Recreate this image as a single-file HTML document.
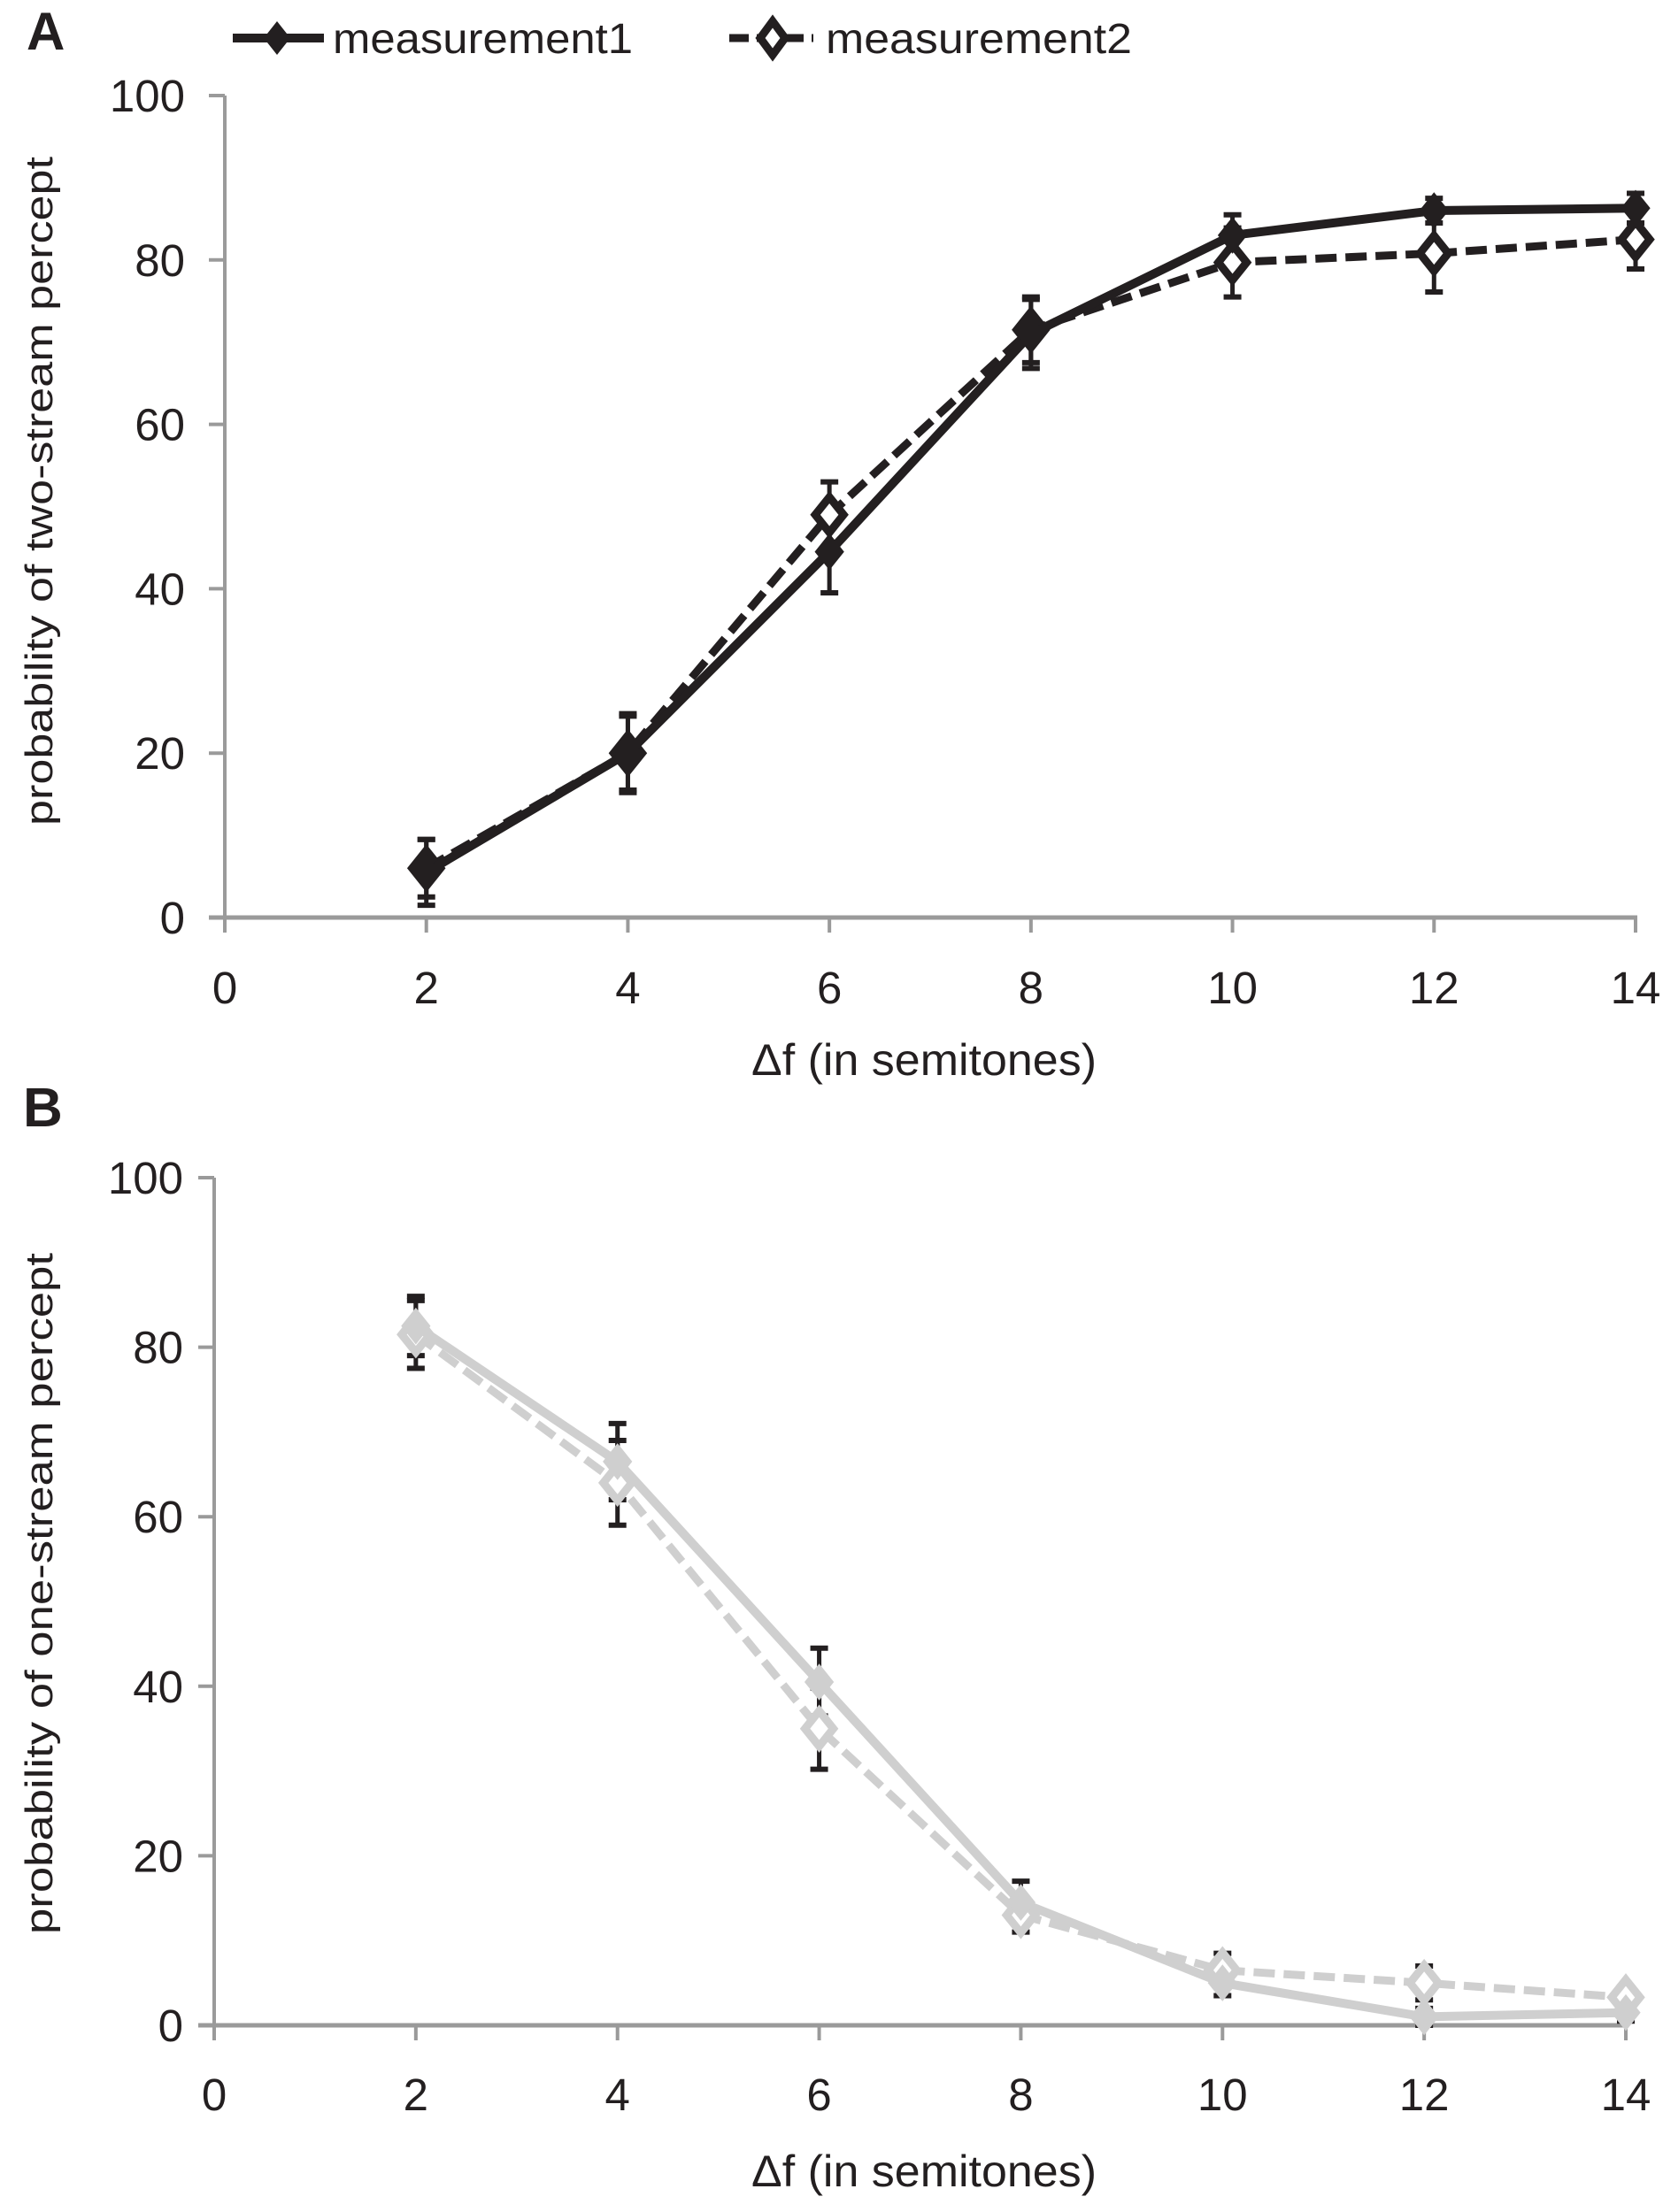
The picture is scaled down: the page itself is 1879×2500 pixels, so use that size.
<!DOCTYPE html>
<html><head><meta charset="utf-8"><style>
html,body{margin:0;padding:0;background:#fff}
svg{display:block}
text{font-family:"Liberation Sans",sans-serif;fill:#231f20}
</style></head><body>
<svg id="chart" width="1879" height="2500" viewBox="0 0 1879 2500" xmlns="http://www.w3.org/2000/svg">
<text x="30" y="56" font-size="60" font-weight="bold">A</text>
<text x="26" y="1273" font-size="62" font-weight="bold">B</text>
<g>
 <g>
  <line x1="263" y1="43" x2="366" y2="43" stroke="#231f20" stroke-width="10"/>
  <polygon points="313,24 328,43 313,62 298,43" fill="#231f20"/>
  <text x="376" y="60" font-size="48" textLength="339" lengthAdjust="spacingAndGlyphs">measurement1</text>
 </g>
 <g>
  <line x1="824" y1="43" x2="919" y2="43" stroke="#231f20" stroke-width="9" stroke-dasharray="22,9"/>
  <polygon points="873,24 887,43 873,62 859,43" fill="#fff" stroke="#231f20" stroke-width="9"/>
  <text x="933" y="60" font-size="48" textLength="346" lengthAdjust="spacingAndGlyphs">measurement2</text>
 </g>
</g>
<g id="pa"></g>
<g id="pb"></g>
</svg>
<script>
const xCats = [2, 4, 6, 8, 10, 12, 14];
const xTicks = [0, 2, 4, 6, 8, 10, 12, 14];
const yTicks = [0, 20, 40, 60, 80, 100];
const aM1 = [5.5, 20, 44.5, 71, 83, 86, 86.3];
const aM1Err = [4, 4.8, 5, 4.2, 2.5, 1.5, 1.8];
const aM2 = [6, 20, 49, 71.5, 79.7, 80.8, 82.5];
const aM2Err = [3.5, 4.5, 4, 4, 4.2, 4.7, 3.6];
const bM1 = [82.5, 66.5, 40.5, 14.5, 5, 1, 1.5];
const bM1Err = [3.5, 4.5, 4, 2.5, 1.5, 1, 1];
const bM2 = [81.5, 64, 35, 13, 6.5, 5, 3.3];
const bM2Err = [4, 5, 4.8, 2, 2, 2, 1.2];

const NS = 'http://www.w3.org/2000/svg';
function mk(parent, tag, attrs){const e=document.createElementNS(NS,tag);for(const k in attrs)e.setAttribute(k,attrs[k]);parent.appendChild(e);return e;}

function panel(gid, cfg){
  const g=document.getElementById(gid);
  const sx=v=>cfg.x0+(cfg.x1-cfg.x0)*v/14;
  const sy=v=>cfg.y0+(cfg.y100-cfg.y0)*v/100;
  const axis=mk(g,'g',{});
  
  
  mk(axis,'line',{x1:cfg.x0,y1:sy(100),x2:cfg.x0,y2:cfg.y0,stroke:'#9a9a9a','stroke-width':4});
  mk(axis,'line',{x1:cfg.x0-18,y1:cfg.y0,x2:cfg.x1+2,y2:cfg.y0,stroke:'#9a9a9a','stroke-width':5});
  yTicks.forEach(t=>{
    const y=sy(t);
    const tk=mk(axis,'line',{x1:cfg.x0-18,y1:y,x2:cfg.x0,y2:y,stroke:'#9a9a9a','stroke-width':4});
    
    
    const tx=mk(axis,'text',{x:cfg.ylx,y:y+18,'font-size':51,'text-anchor':'end'});
    tx.textContent=t;
    
    
  });
  xTicks.forEach(t=>{
    const x=sx(t);
    const tk=mk(axis,'line',{x1:x,y1:cfg.y0,x2:x,y2:cfg.y0+17,stroke:'#9a9a9a','stroke-width':4});
    
    
    const tx=mk(axis,'text',{x:x,y:cfg.xly,'font-size':51,'text-anchor':'middle'});
    tx.textContent=t;
    
    
  });
  const xt=mk(g,'text',{x:1044,y:cfg.xty,'font-size':50,'text-anchor':'middle',textLength:390,lengthAdjust:'spacingAndGlyphs'});
  xt.textContent='\u0394f (in semitones)';
  
  
  const yt=mk(g,'text',{x:0,y:0,'font-size':44,'text-anchor':'middle',textLength:cfg.ytl,lengthAdjust:'spacingAndGlyphs',transform:`translate(59,${cfg.ytc}) rotate(-90)`});
  yt.textContent=cfg.ytitle;
  
  

  const series=[
    {v:cfg.s2,e:cfg.e2,dash:true,name:'series-measurement2'},
    {v:cfg.s1,e:cfg.e1,dash:false,name:'series-measurement1'}
  ];
  series.forEach(s=>{
    const eg=mk(g,'g',{});
    
    
    xCats.forEach((c,i)=>{
      const x=sx(c), yt=sy(s.v[i]+s.e[i]), yb=sy(s.v[i]-s.e[i]);
      mk(eg,'line',{x1:x,y1:yt,x2:x,y2:yb,stroke:'#231f20','stroke-width':5});
      mk(eg,'line',{x1:x-10,y1:yt,x2:x+10,y2:yt,stroke:'#231f20','stroke-width':6});
      mk(eg,'line',{x1:x-10,y1:yb,x2:x+10,y2:yb,stroke:'#231f20','stroke-width':6});
    });
  });
  series.forEach(s=>{
    const sg=mk(g,'g',{});
    
    
    const pts=xCats.map((c,i)=>sx(c)+','+sy(s.v[i])).join(' ');
    const pl=mk(sg,'polyline',{points:pts,fill:'none',stroke:cfg.color,'stroke-width':s.dash?9:10,'stroke-dasharray':s.dash?'24,10':'none','stroke-linejoin':'round'});
    
    
    xCats.forEach((c,i)=>{
      const x=sx(c), y=sy(s.v[i]);
      const p=mk(sg,'polygon',{points:`${x},${y-20} ${x+16},${y} ${x},${y+20} ${x-16},${y}`,
        fill:s.dash?'#fff':cfg.color,stroke:cfg.color,'stroke-width':s.dash?9:1});
      
      
    });
  });
}
panel('pa',{x0:254,x1:1848,y0:1037,y100:108,ylx:209,xly:1134,xty:1215,ytc:555,ytl:756,
  ytitle:'probability of two-stream percept',color:'#231f20',s1:aM1,e1:aM1Err,s2:aM2,e2:aM2Err});
panel('pb',{x0:242,x1:1837,y0:2289,y100:1331,ylx:207,xly:2385,xty:2471,ytc:1801,ytl:770,
  ytitle:'probability of one-stream percept',color:'#cfcfcf',s1:bM1,e1:bM1Err,s2:bM2,e2:bM2Err});
</script>
</body></html>
